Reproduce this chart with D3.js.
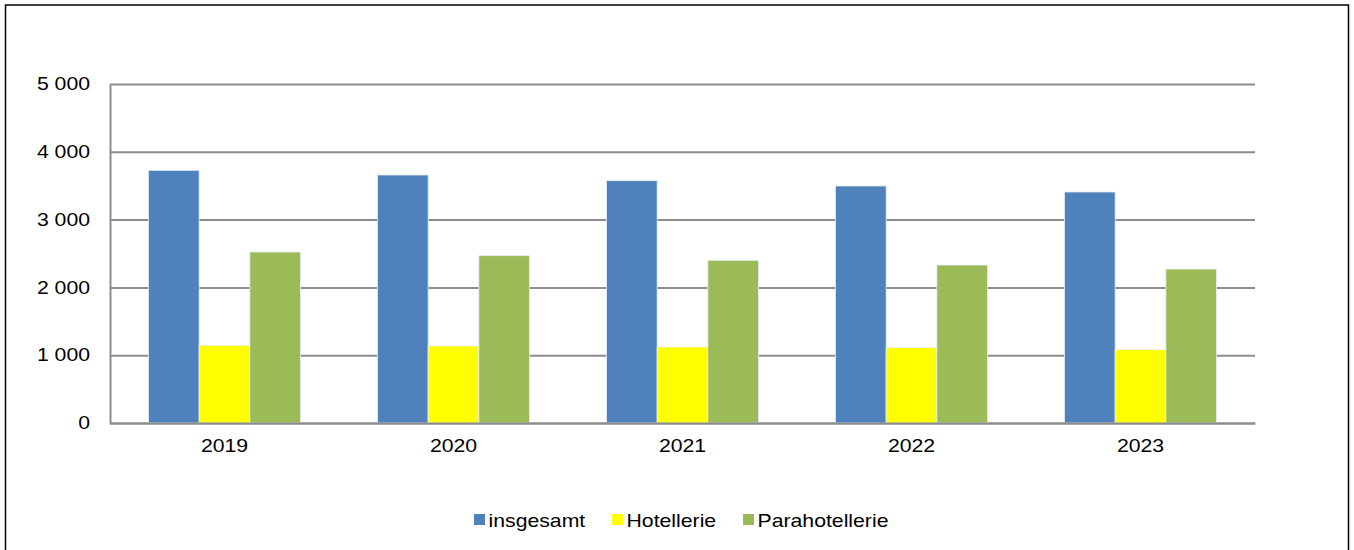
<!DOCTYPE html>
<html>
<head>
<meta charset="utf-8">
<script src="https://cdn.jsdelivr.net/npm/d3@7"></script>
<style>
    body { margin: 0; background: #fff; }
    text { font-family: "Liberation Sans", Arial, sans-serif; fill: #000; }
</style>
</head>
<body>
<div id="chart"></div>
<script>
const years = ["2019", "2020", "2021", "2022", "2023"]
const seriesNames = ["insgesamt", "Hotellerie", "Parahotellerie"]
const insgesamt = [3727, 3658, 3574, 3496, 3407]
const hotellerie = [1146, 1136, 1121, 1111, 1081]
const parahotellerie = [2522, 2468, 2400, 2330, 2271]
const yTicks = [0, 1000, 2000, 3000, 4000, 5000]
const colors = ["#4F81BD", "#FFFF00", "#9BBB59"]

const values = [insgesamt, hotellerie, parahotellerie]
const rows = years.map((y, i) => ({ year: y, vals: seriesNames.map((s, j) => ({ key: s, value: values[j][i] })) }))

const W = 1354, H = 550
const margin = { top: 84, left: 110, right: 99, bottom: 127 }
const width = W - margin.left - margin.right,
    height = H - margin.top - margin.bottom
// text in the original is a bit wide
const sx = 1.18
const fontSize = 18

const svg = d3.select("#chart").append("svg")
    .attr("width", W)
    .attr("height", H)

// outer frame
svg.append("rect")
    .attr("x", 5.5).attr("y", 5)
    .attr("width", 1343).attr("height", 560)
    .attr("fill", "none")
    .attr("stroke", "#000")
    .attr("stroke-width", 1.5)

const chart = svg.append("g")
    .attr("transform", `translate(${margin.left},${margin.top})`)

const yScale = d3.scaleLinear()
    .domain([0, 5000])
    .range([height, 0])

const x0 = d3.scaleBand()
    .domain(years)
    .range([0, width])

const x1 = d3.scaleBand()
    .domain(seriesNames)
    .range([0, x0.bandwidth()])
    .paddingOuter(0.758)

//Draw grid
chart.append("g")
    .attr("class", "grid")
    .call(d3.axisLeft(yScale).tickValues(yTicks).tickSize(-width).tickFormat(""))
    .call(g => g.select(".domain").remove())
    .call(g => g.selectAll("line").attr("stroke", "#8c8c8c").attr("stroke-width", 2))
//End Draw grid

// bars
chart.selectAll(".group")
    .data(rows)
    .enter().append("g")
    .attr("transform", d => `translate(${x0(d.year)},0)`)
    .selectAll("rect")
    .data(d => d.vals)
    .enter().append("rect")
    .attr("x", d => x1(d.key))
    .attr("y", d => yScale(d.value))
    .attr("width", x1.bandwidth())
    .attr("height", d => height - yScale(d.value))
    .attr("fill", (d, i) => colors[i])
    .attr("stroke", "#e8eef5")
    .attr("stroke-width", 0.8)

// y axis
chart.append("g")
    .call(d3.axisLeft(yScale).tickValues(yTicks).tickSize(0).tickPadding(20)
        .tickFormat(d => d3.format(",")(d).replace(",", " ")))
    .call(g => g.select(".domain").attr("stroke", "#8c8c8c").attr("stroke-width", 2))
    .call(g => g.selectAll("text")
        .attr("font-size", fontSize)
        .attr("font-family", "Liberation Sans, Arial, sans-serif")
        .attr("x", -20 / sx)
        .attr("transform", `scale(${sx},1)`))

// x axis
chart.append("g")
    .attr("transform", `translate(0,${height})`)
    .call(d3.axisBottom(x0).tickSize(0).tickPadding(16))
    .call(g => g.select(".domain").attr("stroke", "#8c8c8c").attr("stroke-width", 2))
    .call(g => g.selectAll("text")
        .attr("font-size", fontSize)
        .attr("font-family", "Liberation Sans, Arial, sans-serif")
        .attr("transform", `scale(${sx},1)`))

// legend
const legendX = [474, 612, 743]
const legend = svg.append("g")
legend.selectAll("rect")
    .data(seriesNames)
    .enter().append("rect")
    .attr("x", (d, i) => legendX[i])
    .attr("y", 514)
    .attr("width", 11)
    .attr("height", 11)
    .attr("fill", (d, i) => colors[i])
legend.selectAll("text")
    .data(seriesNames)
    .enter().append("text")
    .attr("transform", (d, i) => `translate(${legendX[i] + 14.5},527) scale(${sx},1)`)
    .attr("font-size", fontSize)
    .text(d => d)
</script>
</body>
</html>
